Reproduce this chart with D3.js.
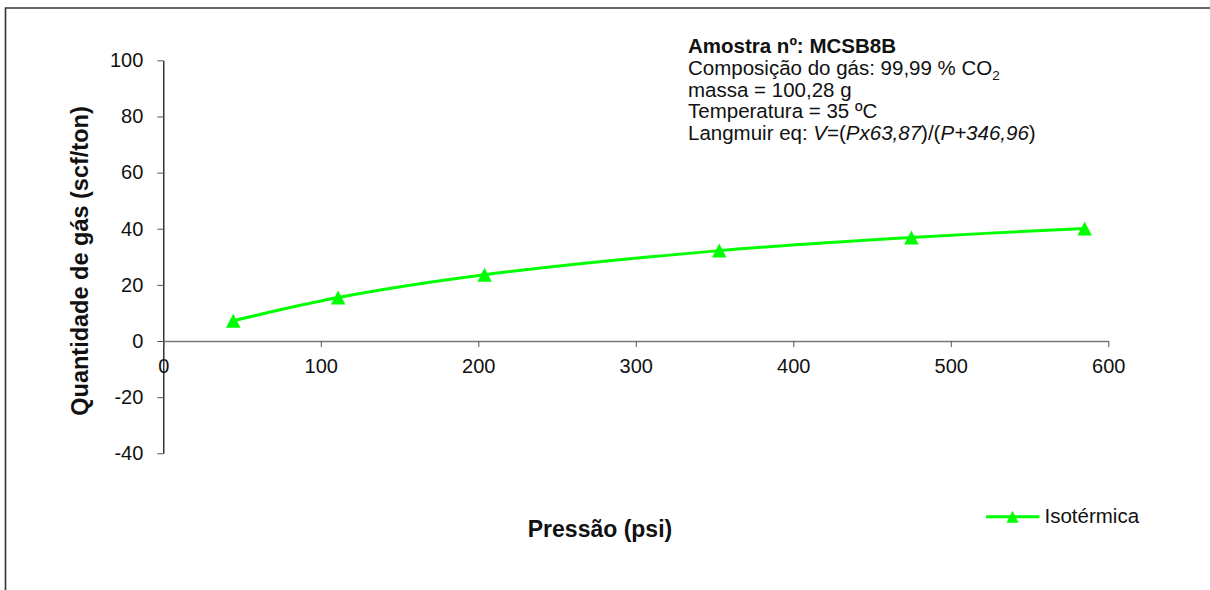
<!DOCTYPE html>
<html>
<head>
<meta charset="utf-8">
<script src="https://cdn.jsdelivr.net/npm/d3@7"></script>
<style>
  body { margin: 0; background: #fff; overflow: hidden; }
  svg { display: block; font-family: "Liberation Sans", Arial, Helvetica, sans-serif; }
</style>
</head>
<body>
<svg id="chart" width="1210" height="590"></svg>
<script>
// Isotherm data: pressure (psi) vs. adsorbed gas (scf/ton)
const pressure = [44.4, 111, 204, 353, 475, 585];
const gasAmount = [7.2, 15.5, 23.6, 32.2, 36.9, 40.1];
const xTicks = [0, 100, 200, 300, 400, 500, 600];
const yTicks = [-40, -20, 0, 20, 40, 60, 80, 100];
const seriesName = "Isotérmica";
const xTitle = "Pressão (psi)";
const yTitle = "Quantidade de gás (scf/ton)";

const svg = d3.select("#chart");
const green = "#00ff00";
const plain = d => String(d);   // keep ASCII hyphen for negatives

// outer frame: only the top and left edges fall inside the view
svg.append("path")
  .attr("d", "M5.5,590V8H1210")
  .attr("fill", "none")
  .attr("stroke", "#333").attr("stroke-width", 1.6);

const x = d3.scaleLinear().domain([0, 600]).range([163.3, 1108.3]);
const y = d3.scaleLinear().domain([-40, 100]).range([453.3, 60.3]);

// y axis
const gy = svg.append("g")
  .attr("transform", `translate(${x(0)},0)`)
  .call(d3.axisLeft(y).tickValues(yTicks).tickSize(6).tickSizeOuter(0).tickPadding(14).tickFormat(plain));
gy.select(".domain").attr("stroke", "#000").attr("stroke-width", 1.2);
gy.selectAll(".tick line").attr("stroke", "#555");
gy.selectAll(".tick text").attr("fill", "#111").style("font-size", "20px")
  .style("font-family", "'Liberation Sans', Arial, sans-serif");

// x axis crossing at zero
const gx = svg.append("g")
  .attr("transform", `translate(0,${y(0)})`)
  .call(d3.axisBottom(x).tickValues(xTicks).tickSize(6).tickSizeOuter(0).tickPadding(12).tickFormat(plain));
gx.select(".domain").attr("stroke", "#777").attr("stroke-width", 1.5);
gx.selectAll(".tick line").attr("stroke", "#555");
gx.selectAll(".tick text").attr("fill", "#111").style("font-size", "20px")
  .style("font-family", "'Liberation Sans', Arial, sans-serif");

// axis titles
svg.append("text")
  .attr("x", 600).attr("y", 536.7)
  .attr("text-anchor", "middle")
  .style("font-size", "23px").style("font-weight", "bold").attr("fill", "#111")
  .text(xTitle);

svg.append("text")
  .attr("transform", "translate(88,261) rotate(-90)")
  .attr("text-anchor", "middle")
  .style("font-size", "23.5px").style("font-weight", "bold").attr("fill", "#111")
  .text(yTitle);

// smoothed series line
const pts = pressure.map((p, i) => [p, gasAmount[i]]);
const line = d3.line()
  .x(d => x(d[0])).y(d => y(d[1]))
  .curve(d3.curveCatmullRom.alpha(0.5));
svg.append("path")
  .datum(pts)
  .attr("d", line)
  .attr("fill", "none")
  .attr("stroke", green)
  .attr("stroke-width", 3);

// triangle marker centred on its bounding box
function tri(w, h) {
  return `M0,${-h / 2}L${w / 2},${h / 2}L${-w / 2},${h / 2}Z`;
}
svg.append("g").selectAll("path")
  .data(pts)
  .join("path")
  .attr("d", tri(14.5, 14))
  .attr("transform", d => `translate(${x(d[0])},${y(d[1])})`)
  .attr("fill", green);

// legend
const lg = svg.append("g");
lg.append("line")
  .attr("x1", 986).attr("x2", 1039.5)
  .attr("y1", 516.7).attr("y2", 516.7)
  .attr("stroke", green).attr("stroke-width", 3);
lg.append("path")
  .attr("d", tri(12, 12))
  .attr("transform", "translate(1012.5,516.7)")
  .attr("fill", green);
lg.append("text")
  .attr("x", 1044.5).attr("y", 523)
  .style("font-size", "20.5px").attr("fill", "#111")
  .text(seriesName);

// sample information block
const info = svg.append("g").attr("fill", "#111").style("font-size", "20.5px");
const x0 = 688, base = 52.7, step = 21.9;

info.append("text").attr("x", x0).attr("y", base)
  .style("font-weight", "bold").style("font-size", "20.5px")
  .text("Amostra nº: MCSB8B");

const l2 = info.append("text").attr("x", x0).attr("y", base + step);
l2.append("tspan").text("Composição do gás: 99,99 % CO");
l2.append("tspan").attr("dy", 5).style("font-size", "13.5px").text("2");

info.append("text").attr("x", x0).attr("y", base + 2 * step).text("massa = 100,28 g");
info.append("text").attr("x", x0).attr("y", base + 3 * step).text("Temperatura = 35 ºC");

const l5 = info.append("text").attr("x", x0).attr("y", base + 4 * step);
[["Langmuir eq: ", false], ["V", true], ["=(", false], ["Px63,87", true],
 [")/(", false], ["P+346,96", true], [")", false]].forEach(([t, it]) => {
  l5.append("tspan").style("font-style", it ? "italic" : "normal").text(t);
});
</script>
</body>
</html>
